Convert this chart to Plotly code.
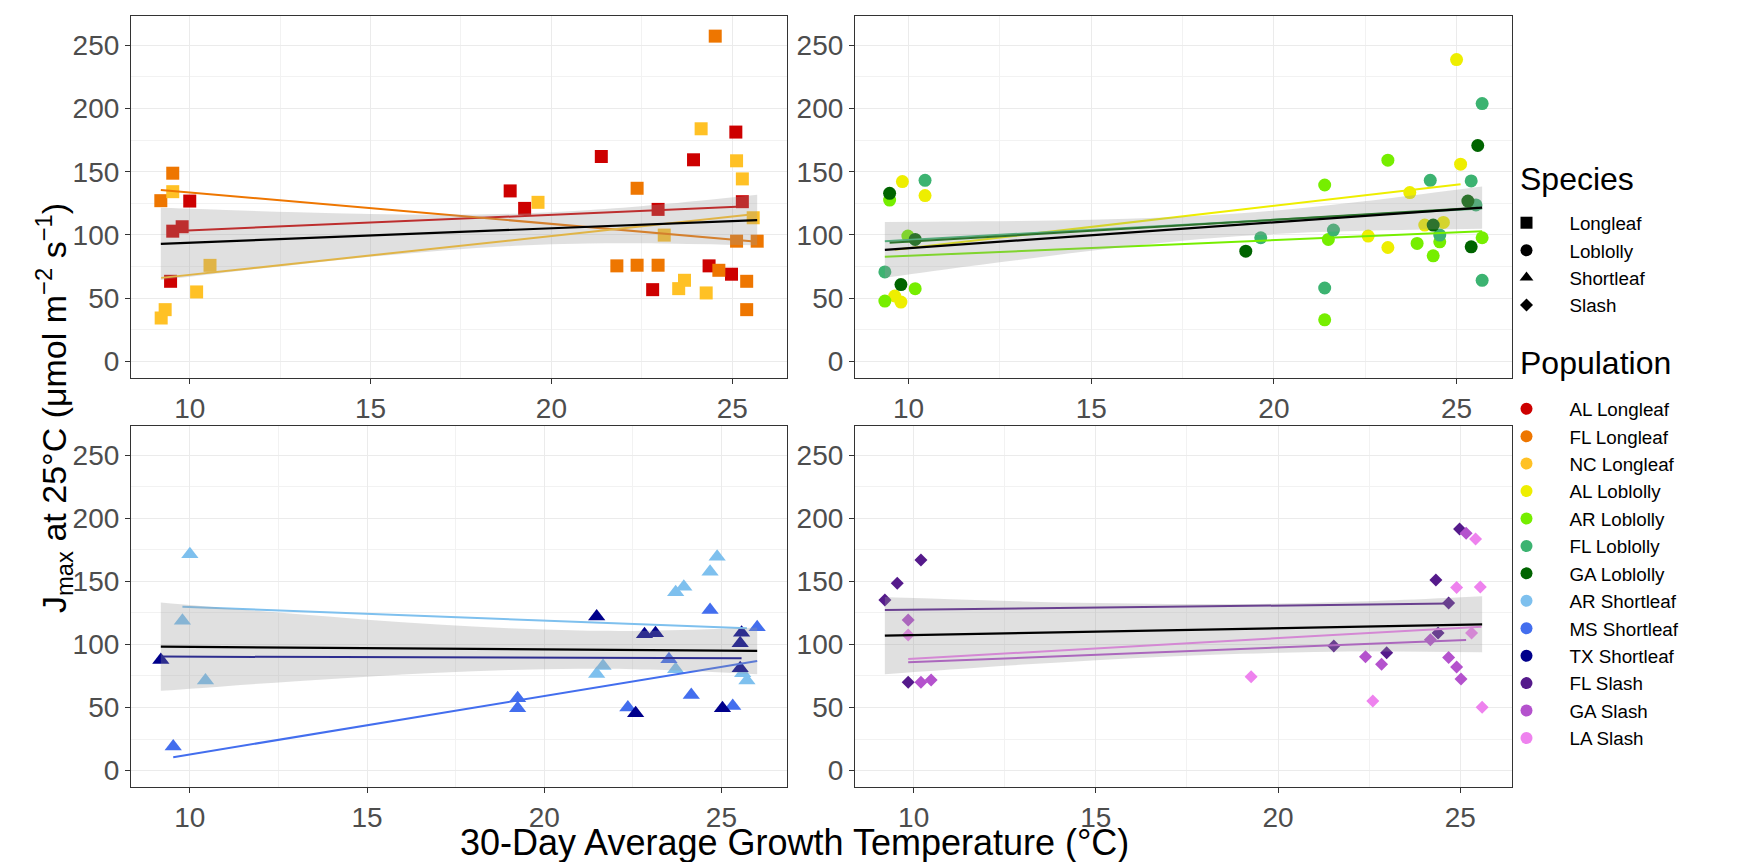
import plotly.graph_objects as go

W, H = 1745, 862
FONT = "Liberation Sans, Arial, sans-serif"

# ---------------- data ----------------
species = ["Longleaf", "Loblolly", "Shortleaf", "Slash"]
species_symbols = ["square", "circle", "triangle-up", "diamond"]
species_sizes = [13, 13, 15, 10]

populations = ["AL Longleaf", "FL Longleaf", "NC Longleaf",
               "AL Loblolly", "AR Loblolly", "FL Loblolly", "GA Loblolly",
               "AR Shortleaf", "MS Shortleaf", "TX Shortleaf",
               "FL Slash", "GA Slash", "LA Slash"]
pop_colors = ["#CD0000", "#EE7600", "#FFC125",
              "#EEEE00", "#76EE00", "#3CB371", "#006400",
              "#7EC0EE", "#436EEE", "#00008B",
              "#551A8B", "#B452CD", "#EE82EE"]
pop_species = [0, 0, 0, 1, 1, 1, 1, 2, 2, 2, 3, 3, 3]

# Longleaf
al_longleaf_t = [9.53, 9.79, 10.0, 9.47, 18.86, 19.26, 21.38, 22.80, 22.95, 23.93, 24.36, 25.10, 25.28, 24.98]
al_longleaf_j = [103, 106.5, 126.8, 63.4, 134.8, 121, 162, 56.8, 120.2, 159.4, 75.6, 181.3, 126.3, 69]
fl_longleaf_t = [9.20, 9.53, 22.37, 21.81, 22.37, 22.95, 24.63, 24.53, 25.12, 25.40, 25.40, 25.69]
fl_longleaf_j = [127.1, 148.8, 136.9, 75.6, 76.1, 76.1, 72.1, 257.1, 95.1, 63.4, 41, 95.1]
nc_longleaf_t = [9.53, 9.32, 9.21, 10.19, 10.56, 19.63, 23.12, 23.52, 23.68, 24.14, 24.28, 25.12, 25.28, 25.58]
nc_longleaf_j = [134.2, 41, 34.4, 55, 76, 125.8, 99.9, 57.6, 64.2, 183.9, 54.2, 158.6, 144.3, 113.6]

# Loblolly
al_loblolly_t = [9.62, 9.79, 9.83, 10.45, 22.58, 23.12, 23.72, 24.13, 24.64, 25.00, 25.11]
al_loblolly_j = [51.8, 47, 142.2, 131.1, 99.1, 90.1, 133.5, 107.8, 109.9, 238.6, 155.9]
ar_loblolly_t = [9.35, 10.18, 9.48, 9.98, 21.39, 21.39, 21.49, 23.12, 23.92, 24.36, 24.54, 25.70]
ar_loblolly_j = [47.8, 57.6, 127.6, 99.1, 139.5, 33, 96.5, 159.1, 93.3, 83.5, 94.6, 97.8]
fl_loblolly_t = [9.35, 10.45, 19.64, 21.39, 21.63, 24.28, 24.54, 25.40, 25.53, 25.70, 25.70]
fl_loblolly_j = [70.8, 143.2, 97.8, 58.1, 103.9, 143.2, 99.9, 142.7, 123.7, 203.8, 64.2]
ga_loblolly_t = [9.79, 9.48, 10.18, 19.23, 24.36, 25.31, 25.58, 25.40]
ga_loblolly_j = [60.8, 132.9, 96.5, 87.2, 107.8, 126.8, 170.7, 90.6]

# Shortleaf
ar_shortleaf_t = [10.0, 9.79, 10.44, 21.48, 21.66, 23.71, 23.71, 23.94, 24.68, 24.88, 25.60, 25.72]
ar_shortleaf_j = [171.3, 118.8, 71.3, 76.6, 82.9, 80.3, 141.2, 145.7, 157.6, 169.5, 77.1, 71.3]
ms_shortleaf_t = [9.53, 19.25, 19.25, 22.36, 23.52, 24.15, 24.68, 25.32, 26.01]
ms_shortleaf_j = [19, 57.3, 49.4, 49.9, 88.2, 59.9, 127.2, 51.2, 113.5]
tx_shortleaf_t = [9.18, 21.48, 22.58, 22.83, 23.14, 25.03, 25.57, 25.53, 25.53]
tx_shortleaf_j = [87.6, 122, 45.4, 108, 108.8, 49.4, 109.3, 100.8, 81]

# Slash
fl_slash_t = [9.21, 9.55, 10.20, 9.85, 21.53, 22.98, 24.33, 24.39, 24.68, 24.98]
fl_slash_j = [135.2, 148.4, 166.8, 70, 98.7, 93.4, 151, 109, 132.7, 191.4]
ga_slash_t = [9.85, 10.20, 10.48, 22.40, 22.84, 24.18, 24.68, 24.90, 25.02, 25.16]
ga_slash_j = [119.3, 70, 71.8, 90.2, 84.2, 103.7, 89.5, 82.1, 72.6, 188]
la_slash_t = [9.85, 19.26, 22.60, 24.90, 25.42, 25.55, 25.31, 25.60]
la_slash_j = [107.4, 74.4, 55.2, 145, 183.5, 145.5, 109, 50.2]

pop_t = [al_longleaf_t, fl_longleaf_t, nc_longleaf_t,
         al_loblolly_t, ar_loblolly_t, fl_loblolly_t, ga_loblolly_t,
         ar_shortleaf_t, ms_shortleaf_t, tx_shortleaf_t,
         fl_slash_t, ga_slash_t, la_slash_t]
pop_j = [al_longleaf_j, fl_longleaf_j, nc_longleaf_j,
         al_loblolly_j, ar_loblolly_j, fl_loblolly_j, ga_loblolly_j,
         ar_shortleaf_j, ms_shortleaf_j, tx_shortleaf_j,
         fl_slash_j, ga_slash_j, la_slash_j]

# population regression lines (end points)
pop_line_t = [[9.47, 25.28], [9.20, 25.69], [9.21, 25.58],
              [9.62, 25.11], [9.35, 25.70], [9.35, 25.70], [9.48, 25.58],
              [9.79, 25.72], [9.53, 26.01], [9.18, 25.57],
              [9.21, 24.68], [9.85, 25.16], [9.85, 25.58]]
pop_line_j = [[103.0, 122.4], [135.6, 94.6], [66.1, 116.3],
              [88.4, 140.1], [82.7, 103.0], [95.1, 121.0], [93.8, 121.6],
              [129.9, 112.7], [10.6, 86.9], [90.3, 89.0],
              [127.2, 132.3], [85.8, 103.5], [88.4, 114.0]]

# species-level regression line and 95% band
sp_line_t = [[9.20, 25.69], [9.35, 25.70], [9.18, 26.01], [9.21, 25.60]]
sp_line_j = [[93.0, 111.8], [88.3, 121.6], [98.2, 94.8], [106.9, 115.9]]

band_t = [
    [9.20, 11, 13, 15, 17, 19, 21, 23, 25.69],
    [9.35, 11, 13, 15, 17, 19, 21, 23, 25.70],
    [9.18, 11, 13, 15, 17, 19, 21, 23, 26.01],
    [9.21, 11, 13, 15, 17, 19, 21, 23, 25.60],
]
band_lo = [
    [64.4, 70.4, 76.7, 82.7, 87.8, 91.4, 93.2, 93.3, 91.8],
    [66.3, 72.8, 80.3, 87.5, 94.0, 98.9, 102.1, 103.8, 105.0],
    [63.2, 66.9, 70.8, 74.4, 77.5, 79.7, 80.7, 80.0, 76.3],
    [76.3, 80.1, 84.0, 87.5, 90.4, 92.6, 93.9, 94.3, 93.7],
]
band_hi = [
    [121.6, 119.8, 117.9, 116.5, 116.0, 116.8, 119.6, 124.1, 131.8],
    [110.3, 110.6, 111.1, 112.1, 113.8, 116.9, 121.9, 128.4, 138.2],
    [133.2, 128.7, 124.0, 119.6, 115.7, 112.7, 110.9, 110.8, 113.3],
    [137.5, 135.7, 134.0, 132.7, 132.0, 132.0, 132.9, 134.7, 138.1],
]

x_ticks = [10, 15, 20, 25]
y_ticks = [0, 50, 100, 150, 200, 250]
y_limits = [0, 260]

x_title = "30-Day Average Growth Temperature (°C)"
y_title = "J<sub>max</sub> at 25°C (μmol m<sup>−2</sup> s<sup>−1</sup>)"
legend_titles = ["Species", "Population"]

# ---------------- figure ----------------
fig = go.Figure()

col_px = [(123, 779), (847, 1504)]
row_px = [(8, 370), (418, 779)]
panel_pos = [(0, 0), (0, 1), (1, 0), (1, 1)]

for s in range(4):
    ax = "" if s == 0 else str(s + 1)
    xa, ya = "x" + ax, "y" + ax
    members = [p for p in range(len(populations)) if pop_species[p] == s]
    for p in members:
        fig.add_trace(go.Scatter(
            x=pop_t[p], y=pop_j[p], mode="markers", xaxis=xa, yaxis=ya,
            marker=dict(symbol=species_symbols[s], size=species_sizes[s],
                        color=pop_colors[p], line=dict(width=0)),
            showlegend=False, hoverinfo="skip"))
    for p in members:
        fig.add_trace(go.Scatter(
            x=pop_line_t[p], y=pop_line_j[p], mode="lines", xaxis=xa, yaxis=ya,
            line=dict(color=pop_colors[p], width=2),
            showlegend=False, hoverinfo="skip"))
    fig.add_trace(go.Scatter(
        x=band_t[s], y=band_lo[s], mode="lines", xaxis=xa, yaxis=ya,
        line=dict(width=0, color="rgba(0,0,0,0)", shape="spline"),
        showlegend=False, hoverinfo="skip"))
    fig.add_trace(go.Scatter(
        x=band_t[s], y=band_hi[s], mode="lines", xaxis=xa, yaxis=ya,
        fill="tonexty", fillcolor="rgba(153,153,153,0.3)",
        line=dict(width=0, color="rgba(0,0,0,0)", shape="spline"),
        showlegend=False, hoverinfo="skip"))
    fig.add_trace(go.Scatter(
        x=sp_line_t[s], y=sp_line_j[s], mode="lines", xaxis=xa, yaxis=ya,
        line=dict(color="black", width=2.2),
        showlegend=False, hoverinfo="skip"))

    all_t = [t for p in members for t in pop_t[p]]
    tmin, tmax = min(all_t), max(all_t)
    pad = 0.05 * (tmax - tmin)
    ypad = 0.05 * (y_limits[1] - y_limits[0])
    r, c = panel_pos[s]
    axis_common = dict(
        showline=True, mirror=True, linecolor="#333333", linewidth=1.2,
        ticks="outside", ticklen=5, tickwidth=1.2, tickcolor="#333333",
        tickfont=dict(size=28, color="#4D4D4D", family=FONT),
        showgrid=True, gridcolor="#EBEBEB", gridwidth=1.4, zeroline=False,
        automargin=False, fixedrange=True)
    fig.layout["xaxis" + ax] = dict(
        axis_common, anchor=ya,
        domain=[col_px[c][0] / W, col_px[c][1] / W],
        range=[tmin - pad, tmax + pad], tickmode="array", tickvals=x_ticks,
        minor=dict(showgrid=True, gridcolor="#F2F2F2", gridwidth=0.8,
                   tickmode="array", tickvals=[12.5, 17.5, 22.5], ticks=""))
    fig.layout["yaxis" + ax] = dict(
        axis_common, anchor=xa,
        domain=[1 - row_px[r][1] / H, 1 - row_px[r][0] / H],
        range=[y_limits[0] - ypad, y_limits[1] + ypad], tickmode="array",
        tickvals=y_ticks,
        minor=dict(showgrid=True, gridcolor="#F2F2F2", gridwidth=0.8,
                   tickmode="array", tickvals=[25, 75, 125, 175, 225], ticks=""))

# legend entries (two non-breaking spaces widen the key-to-label gap)
GAP = "\u00a0\u00a0"
for s in range(4):
    fig.add_trace(go.Scatter(
        x=[None], y=[None], mode="markers", name=GAP + species[s],
        marker=dict(symbol=species_symbols[s], size=12 if s != 3 else 10, color="black"),
        legend="legend", showlegend=True))
for p in range(len(populations)):
    fig.add_trace(go.Scatter(
        x=[None], y=[None], mode="markers", name=GAP + populations[p],
        marker=dict(symbol="circle", size=12, color=pop_colors[p]),
        legend="legend2", showlegend=True))

leg_common = dict(xanchor="left", yanchor="top", traceorder="normal",
                  itemwidth=55, font=dict(size=18.8, family=FONT, color="black"),
                  bgcolor="rgba(0,0,0,0)", borderwidth=0,
                  itemclick=False, itemdoubleclick=False)

fig.update_layout(
    template="none",
    width=W, height=H,
    margin=dict(l=0, r=0, t=0, b=0),
    paper_bgcolor="white", plot_bgcolor="white",
    font=dict(family=FONT, color="black"),
    legend=dict(leg_common, x=1486 / W, y=1 - 196 / H),
    legend2=dict(leg_common, x=1486 / W, y=1 - 382 / H),
    annotations=[
        dict(text=x_title, x=786 / W, y=1 - 834 / H, xref="paper", yref="paper",
             xanchor="center", yanchor="middle", showarrow=False,
             font=dict(size=36, family=FONT, color="black")),
        dict(text=y_title, x=46 / W, y=1 - 400 / H, xref="paper", yref="paper",
             xanchor="center", yanchor="middle", showarrow=False, textangle=-90,
             font=dict(size=34, family=FONT, color="black")),
        dict(text=legend_titles[0], x=1510 / W, y=1 - 171 / H, xref="paper", yref="paper",
             xanchor="left", yanchor="middle", showarrow=False,
             font=dict(size=32, family=FONT, color="black")),
        dict(text=legend_titles[1], x=1510 / W, y=1 - 355 / H, xref="paper", yref="paper",
             xanchor="left", yanchor="middle", showarrow=False,
             font=dict(size=32, family=FONT, color="black")),
    ],
)

fig.write_html("out.html")
